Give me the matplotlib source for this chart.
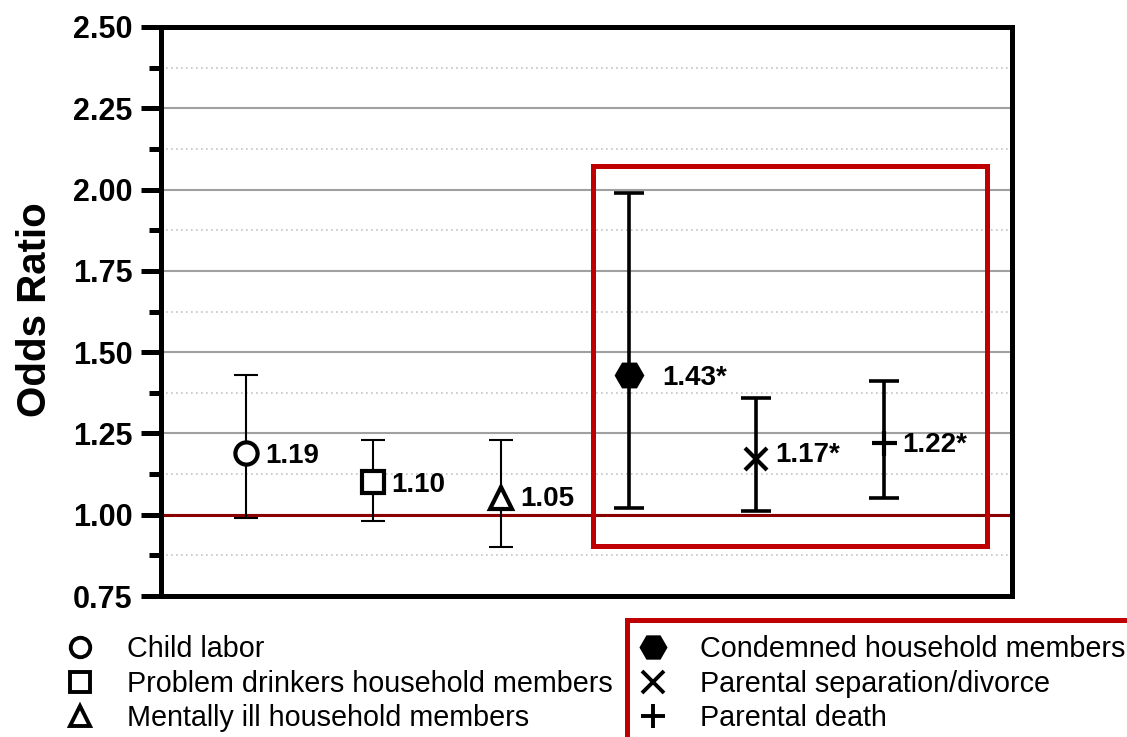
import matplotlib
matplotlib.use('Agg')
import matplotlib.pyplot as plt
from matplotlib.lines import Line2D
from matplotlib.patches import Rectangle
from matplotlib.ticker import MultipleLocator, FormatStrFormatter

plt.rcParams['font.family'] = ['Liberation Sans', 'DejaVu Sans']

# ---- data ----
categories = ["Child labor", "Problem drinkers household members",
              "Mentally ill household members", "Condemned household members",
              "Parental separation/divorce", "Parental death"]
odds = [1.19, 1.10, 1.05, 1.43, 1.17, 1.22]
ci_low = [0.99, 0.98, 0.90, 1.02, 1.01, 1.05]
ci_high = [1.43, 1.23, 1.23, 1.99, 1.36, 1.41]
value_labels = ["1.19", "1.10", "1.05", "1.43*", "1.17*", "1.22*"]
yticks = [0.75, 1.00, 1.25, 1.50, 1.75, 2.00, 2.25, 2.50]

# ---- style ----
markers = ['o', 's', '^', 'H', 'x', '+']
filled = [False, False, False, True, False, False]
marker_sizes = [16, 16, 16, 18, 16, 18]
legend_marker_sizes = [14, 14, 14, 17, 16, 17]
label_dx = [19, 18, 19, 34, 19, 18]      # pixels
label_dy = [0, 0, 2, 0, 7, 1]            # pixels
RED = '#C00000'
DARKRED = '#8B0000'

W, H = 1127, 737
fig = plt.figure(figsize=(W / 100, H / 100), dpi=100)
ax = fig.add_axes([161 / W, 1 - 596 / H, (1012 - 161) / W, (596 - 27) / H])

xs = list(range(1, len(odds) + 1))
for i, x in enumerate(xs):
    thin = i < 3
    lw = 1.5 if thin else 2.6
    cs = 8.6 if thin else 10.8
    ax.errorbar([x], [odds[i]], yerr=[[odds[i] - ci_low[i]], [ci_high[i] - odds[i]]],
                fmt='none', ecolor='black', elinewidth=lw, capsize=cs, capthick=lw, zorder=3)
    ax.plot([x], [odds[i]], linestyle='none', marker=markers[i], ms=marker_sizes[i],
            mfc='black' if filled[i] else 'white', mec='black', mew=3.0, zorder=4)
    ax.annotate(value_labels[i], (x, odds[i]), xytext=(label_dx[i], label_dy[i] - 10),
                textcoords='offset pixels', ha='left', va='baseline',
                fontsize=20, fontweight='bold', zorder=5)

ax.axhline(1.0, color=DARKRED, lw=2.2, zorder=2)

ax.set_xlim(0.335, 7.005)
ax.set_ylim(yticks[0], yticks[-1])
ax.set_yticks(yticks)
ax.yaxis.set_minor_locator(MultipleLocator(0.125))
ax.yaxis.set_major_formatter(FormatStrFormatter('%.2f'))
ax.set_xticks([])
ax.grid(which='major', axis='y', color='#a0a0a0', lw=1.5, zorder=0)
ax.grid(which='minor', axis='y', color='#c4c4c4', lw=1.2, ls=(0, (1, 2)), zorder=0)
ax.set_axisbelow(True)
ax.tick_params(axis='y', which='major', length=14.4, width=3.6, labelsize=22, pad=6)
ax.tick_params(axis='y', which='minor', length=8.6, width=3.6)
for lab in ax.get_yticklabels():
    lab.set_fontweight('bold')
for sp in ax.spines.values():
    sp.set_linewidth(3.6)
    sp.set_color('black')

ax.set_ylabel('Odds Ratio', fontsize=29, fontweight='bold')
ax.yaxis.label.set_verticalalignment('center')
ax.yaxis.set_label_coords((35 - 161) / 851, (596 - 310) / 569)

# highlight box around significant results
ax.add_patch(Rectangle((3.72, 0.905), 6.81 - 3.72, 2.074 - 0.905, fill=False,
                       ec=RED, lw=3.6, clip_on=False, zorder=6))

# ---- manual legend ----
rows = [647, 682, 716]
for i, cat in enumerate(categories):
    col = i // 3
    r = rows[i % 3]
    mx = 80 if col == 0 else 653
    tx = 127 if col == 0 else 700
    fig.add_artist(Line2D([mx / W], [1 - r / H], transform=fig.transFigure,
                          linestyle='none', marker=markers[i],
                          ms=legend_marker_sizes[i],
                          mfc='black' if filled[i] else 'white', mec='black', mew=2.8))
    fig.text(tx / W, 1 - (r + 10) / H, cat, fontsize=20.7, ha='left', va='baseline')

fig.add_artist(Rectangle((627 / W, 1 - 760 / H), (1160 - 627) / W, (760 - 620) / H,
                         transform=fig.transFigure, fill=False, ec=RED, lw=3.6,
                         clip_on=False))

fig.savefig('out.png', dpi=100)
